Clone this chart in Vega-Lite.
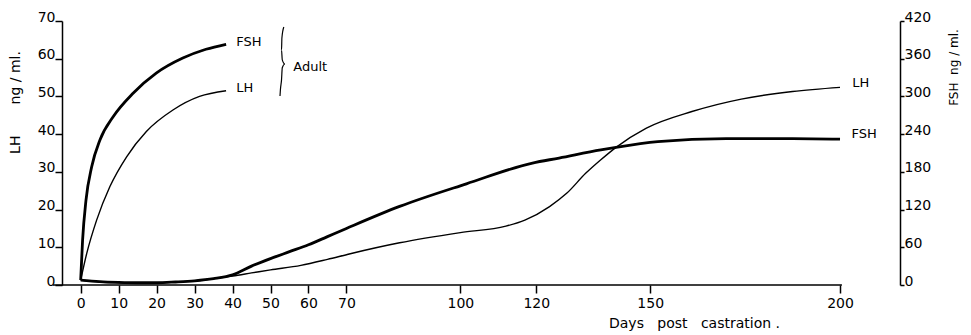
{
  "$schema": "https://vega.github.io/schema/vega-lite/v6.json",
  "width": 838,
  "height": 264,
  "autosize": {"type": "none"},
  "padding": {"left": 62, "top": 21, "right": 71, "bottom": 50},
  "background": "white",
  "config": {
    "view": {"stroke": null},
    "font": "DejaVu Sans",
    "axis": {"grid": false, "domainColor": "black", "tickColor": "black", "labelColor": "black", "titleColor": "black", "labelFont": "DejaVu Sans", "titleFont": "DejaVu Sans", "titleFontWeight": "normal", "domainWidth": 1.5, "tickWidth": 1.5}
  },
  "datasets": {
    "lh": [
      {"curve": "castrated", "day": 0, "lh": 1.3},
      {"curve": "castrated", "day": 5, "lh": 0.8},
      {"curve": "castrated", "day": 10, "lh": 0.6},
      {"curve": "castrated", "day": 15, "lh": 0.5},
      {"curve": "castrated", "day": 20, "lh": 0.6},
      {"curve": "castrated", "day": 25, "lh": 0.8},
      {"curve": "castrated", "day": 30, "lh": 1.1},
      {"curve": "castrated", "day": 35, "lh": 1.7},
      {"curve": "castrated", "day": 40, "lh": 2.4},
      {"curve": "castrated", "day": 45, "lh": 3.2},
      {"curve": "castrated", "day": 50, "lh": 4.0},
      {"curve": "castrated", "day": 58, "lh": 5.2},
      {"curve": "castrated", "day": 65, "lh": 6.8},
      {"curve": "castrated", "day": 71, "lh": 8.3},
      {"curve": "castrated", "day": 84, "lh": 11.2},
      {"curve": "castrated", "day": 100, "lh": 13.9},
      {"curve": "castrated", "day": 112, "lh": 15.6},
      {"curve": "castrated", "day": 117, "lh": 17.2},
      {"curve": "castrated", "day": 123.5, "lh": 20.8},
      {"curve": "castrated", "day": 128, "lh": 24.3},
      {"curve": "castrated", "day": 133, "lh": 29.6},
      {"curve": "castrated", "day": 137, "lh": 33.2},
      {"curve": "castrated", "day": 141, "lh": 36.5},
      {"curve": "castrated", "day": 149, "lh": 41.6},
      {"curve": "castrated", "day": 161, "lh": 46.0},
      {"curve": "castrated", "day": 174, "lh": 49.3},
      {"curve": "castrated", "day": 187.5, "lh": 51.3},
      {"curve": "castrated", "day": 200, "lh": 52.4},
      {"curve": "adult", "day": 0, "lh": 1.3},
      {"curve": "adult", "day": 1.6, "lh": 8.4},
      {"curve": "adult", "day": 4.2, "lh": 17.2},
      {"curve": "adult", "day": 7.7, "lh": 26.1},
      {"curve": "adult", "day": 12.1, "lh": 34.0},
      {"curve": "adult", "day": 17.3, "lh": 40.7},
      {"curve": "adult", "day": 24.3, "lh": 46.4},
      {"curve": "adult", "day": 31.3, "lh": 50.0},
      {"curve": "adult", "day": 38.3, "lh": 51.5}
    ],
    "fsh": [
      {"curve": "castrated", "day": 0, "fsh": 7.8},
      {"curve": "castrated", "day": 5, "fsh": 5.4},
      {"curve": "castrated", "day": 10, "fsh": 4.2},
      {"curve": "castrated", "day": 15, "fsh": 3.6},
      {"curve": "castrated", "day": 20, "fsh": 3.6},
      {"curve": "castrated", "day": 25, "fsh": 4.8},
      {"curve": "castrated", "day": 30, "fsh": 6.6},
      {"curve": "castrated", "day": 35, "fsh": 10},
      {"curve": "castrated", "day": 40, "fsh": 16},
      {"curve": "castrated", "day": 45, "fsh": 30},
      {"curve": "castrated", "day": 50, "fsh": 42},
      {"curve": "castrated", "day": 55, "fsh": 53},
      {"curve": "castrated", "day": 60, "fsh": 64},
      {"curve": "castrated", "day": 65, "fsh": 77},
      {"curve": "castrated", "day": 70, "fsh": 90},
      {"curve": "castrated", "day": 84, "fsh": 125},
      {"curve": "castrated", "day": 101.6, "fsh": 161},
      {"curve": "castrated", "day": 119, "fsh": 194},
      {"curve": "castrated", "day": 126, "fsh": 202},
      {"curve": "castrated", "day": 137, "fsh": 215},
      {"curve": "castrated", "day": 141, "fsh": 219},
      {"curve": "castrated", "day": 152, "fsh": 228},
      {"curve": "castrated", "day": 170, "fsh": 233},
      {"curve": "castrated", "day": 187.5, "fsh": 233},
      {"curve": "castrated", "day": 200, "fsh": 232},
      {"curve": "adult", "day": 0, "fsh": 7.8},
      {"curve": "adult", "day": 0.5, "fsh": 71},
      {"curve": "adult", "day": 1.4, "fsh": 135},
      {"curve": "adult", "day": 2.9, "fsh": 188},
      {"curve": "adult", "day": 5.1, "fsh": 231},
      {"curve": "adult", "day": 8.6, "fsh": 268},
      {"curve": "adult", "day": 13.8, "fsh": 305},
      {"curve": "adult", "day": 19.9, "fsh": 337},
      {"curve": "adult", "day": 26.9, "fsh": 361},
      {"curve": "adult", "day": 33, "fsh": 375},
      {"curve": "adult", "day": 38.3, "fsh": 383}
    ],
    "brace": [
      {"i": 0, "day": 53.5, "lh": 68.4},
      {"i": 1, "day": 53.0, "lh": 65.5},
      {"i": 2, "day": 52.9, "lh": 62.3},
      {"i": 3, "day": 53.1, "lh": 59.7},
      {"i": 4, "day": 53.8, "lh": 58.6},
      {"i": 5, "day": 53.1, "lh": 57.6},
      {"i": 6, "day": 52.9, "lh": 54.4},
      {"i": 7, "day": 52.6, "lh": 51.7},
      {"i": 8, "day": 52.5, "lh": 50.1}
    ],
    "lhLabels": [
      {"label": "LH", "day": 41, "lh": 52.3},
      {"label": "LH", "day": 203.2, "lh": 53.6},
      {"label": "Adult", "day": 56, "lh": 57.9}
    ],
    "fshLabels": [
      {"label": "FSH", "day": 41, "fsh": 387},
      {"label": "FSH", "day": 203, "fsh": 240}
    ],
    "baseline": [
      {"day": -7.3, "day2": 200.5, "lh": 0}
    ]
  },
  "layer": [
    {
      "encoding": {
        "x": {
          "field": "day", "type": "quantitative",
          "scale": {"domain": [-4.92, 215.8], "nice": false, "zero": false},
          "axis": {
            "values": [0, 10, 20, 30, 40, 50, 60, 70, 100, 120, 150, 200],
            "domain": false, "tickSize": 8, "labelPadding": 3, "labelFontSize": 14, "labelOverlap": false,
            "title": "Days\u00a0\u00a0 post\u00a0\u00a0 castration\u00a0.",
            "titleX": 632, "titleY": 38, "titleAlign": "center", "titleBaseline": "middle", "titleFontSize": 14
          }
        },
        "y": {
          "field": "lh", "type": "quantitative",
          "scale": {"domain": [0, 70], "nice": false, "zero": false},
          "axis": {
            "values": [0, 10, 20, 30, 40, 50, 60, 70],
            "tickSize": 7, "labelPadding": 0, "labelBaseline": "alphabetic", "labelFontSize": 14, "labelOverlap": false,
            "title": "LH\u00a0\u00a0\u00a0\u00a0\u00a0\u00a0 ng / ml.",
            "titleAngle": 270, "titleX": -47, "titleY": 81, "titleAlign": "center", "titleBaseline": "middle", "titleFontSize": 14
          }
        }
      },
      "layer": [
        {
          "data": {"name": "baseline"},
          "mark": {"type": "rule", "color": "black", "strokeWidth": 1.5, "clip": false},
          "encoding": {
            "x2": {"field": "day2"}
          }
        },
        {
          "data": {"name": "lh"},
          "mark": {"type": "line", "color": "black", "strokeWidth": 1.4, "interpolate": "monotone"},
          "encoding": {
            "detail": {"field": "curve"}
          }
        },
        {
          "data": {"name": "brace"},
          "mark": {"type": "line", "color": "black", "strokeWidth": 1.2, "interpolate": "monotone"},
          "encoding": {
            "order": {"field": "i"}
          }
        },
        {
          "data": {"name": "lhLabels"},
          "mark": {"type": "text", "align": "left", "baseline": "middle", "fontSize": 13, "color": "black"},
          "encoding": {
            "text": {"field": "label"}
          }
        }
      ]
    },
    {
      "encoding": {
        "x": {"field": "day", "type": "quantitative"},
        "y": {
          "field": "fsh", "type": "quantitative",
          "scale": {"domain": [0, 420], "nice": false, "zero": false},
          "axis": {
            "orient": "right",
            "values": [0, 60, 120, 180, 240, 300, 360, 420],
            "tickSize": 4, "labelPadding": 0, "labelBaseline": "alphabetic", "labelFontSize": 14, "labelOverlap": false,
            "title": "FSH\u00a0 ng / ml.",
            "titleAngle": 270, "titleX": 53, "titleY": 46, "titleAlign": "center", "titleBaseline": "middle", "titleFontSize": 12
          }
        }
      },
      "layer": [
        {
          "data": {"name": "fsh"},
          "mark": {"type": "line", "color": "black", "strokeWidth": 2.8, "interpolate": "monotone"},
          "encoding": {
            "detail": {"field": "curve"}
          }
        },
        {
          "data": {"name": "fshLabels"},
          "mark": {"type": "text", "align": "left", "baseline": "middle", "fontSize": 13, "color": "black"},
          "encoding": {
            "text": {"field": "label"}
          }
        }
      ]
    }
  ],
  "resolve": {"scale": {"y": "independent"}}
}
